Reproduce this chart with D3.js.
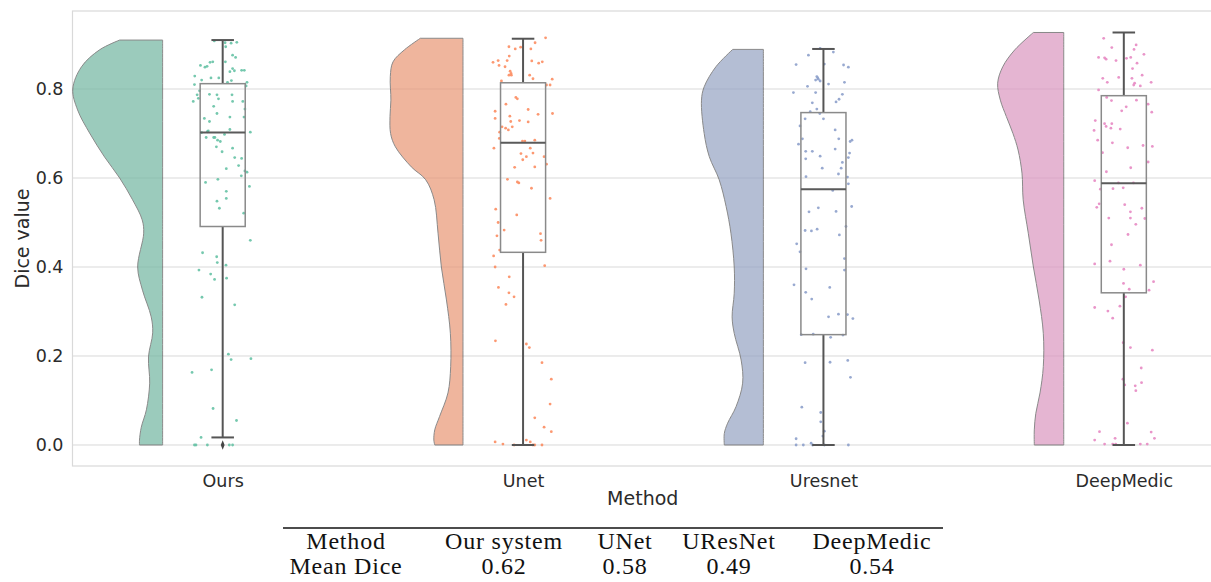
<!DOCTYPE html>
<html>
<head>
<meta charset="utf-8">
<script src="https://cdnjs.cloudflare.com/ajax/libs/d3/7.8.5/d3.min.js"></script>
<style>
  body { margin: 0; background: #fff; }
  svg { display: block; }
</style>
</head>
<body>
<svg id="chart" width="1211" height="582"></svg>
<script>
// ---- data -------------------------------------------------------------
const methods = ["Ours", "Unet", "Uresnet", "DeepMedic"];
const palette = ["#66c2a5", "#fc8d62", "#8da0cb", "#e78ac3"];
const yTicks = [0, 0.2, 0.4, 0.6, 0.8];

// box statistics: [lower whisker, Q1, median, Q3, upper whisker]
const boxStats = [
  [0.017, 0.491, 0.702, 0.812, 0.910],
  [0.000, 0.433, 0.679, 0.814, 0.913],
  [0.000, 0.248, 0.575, 0.747, 0.890],
  [0.000, 0.342, 0.588, 0.785, 0.927]
];
const fliers = [[0.0], [], [], []];

// half-violin kernel density profiles: [Dice value, density]
const densityOurs = [
  [0.910, 1.43], [0.888, 2.10], [0.850, 2.70], [0.800, 2.99], [0.753, 2.83],
  [0.701, 2.43], [0.647, 1.93], [0.600, 1.43], [0.551, 1.00], [0.506, 0.68],
  [0.476, 0.63], [0.400, 0.83], [0.348, 0.67], [0.288, 0.38], [0.252, 0.33],
  [0.198, 0.47], [0.139, 0.43], [0.079, 0.54], [0.040, 0.71], [0.011, 0.77],
  [0.000, 0.77]
];
const densityUnet = [
  [0.914, 1.42], [0.888, 1.95], [0.861, 2.33], [0.828, 2.42], [0.775, 2.40],
  [0.738, 2.43], [0.700, 2.41], [0.670, 2.25], [0.625, 1.72], [0.596, 1.24],
  [0.551, 0.96], [0.476, 0.83], [0.400, 0.72], [0.326, 0.55], [0.251, 0.42],
  [0.176, 0.41], [0.117, 0.50], [0.064, 0.78], [0.034, 0.94], [0.011, 0.97],
  [0.000, 0.94]
];
const densityUresnet = [
  [0.889, 1.02], [0.850, 1.58], [0.805, 1.97], [0.775, 2.06], [0.700, 1.97],
  [0.648, 1.80], [0.596, 1.47], [0.536, 1.24], [0.476, 1.08], [0.400, 0.97],
  [0.341, 0.97], [0.288, 1.04], [0.251, 0.97], [0.191, 0.74], [0.139, 0.69],
  [0.086, 0.91], [0.049, 1.19], [0.026, 1.30], [0.000, 1.30]
];
const densityDeepMedic = [
  [0.927, 1.01], [0.888, 1.63], [0.850, 2.03], [0.813, 2.20], [0.775, 2.11],
  [0.738, 1.91], [0.700, 1.69], [0.663, 1.52], [0.611, 1.39], [0.551, 1.35],
  [0.476, 1.18], [0.400, 1.01], [0.326, 0.82], [0.251, 0.68], [0.176, 0.68],
  [0.117, 0.79], [0.071, 0.93], [0.034, 0.98], [0.000, 0.98]
];

// per-case Dice values with their strip jitter: [Dice value, jitter]
const pointsOurs = [
  [0.908,-0.028],[0.904,0.008],[0.903,0.028],[0.905,0.047],[0.895,0.010],[0.876,0.033],
  [0.871,0.043],[0.853,-0.074],[0.851,-0.052],[0.860,-0.042],[0.861,-0.033],[0.861,0.009],
  [0.849,-0.059],[0.846,0.033],[0.841,0.039],[0.839,0.024],[0.842,0.063],[0.842,0.072],
  [0.829,-0.093],[0.820,-0.070],[0.825,-0.039],[0.825,-0.013],[0.819,0.029],[0.815,0.016],
  [0.815,0.081],[0.810,-0.094],[0.807,0.078],[0.796,-0.077],[0.787,-0.085],[0.772,-0.098],
  [0.779,-0.081],[0.788,-0.044],[0.787,-0.019],[0.778,-0.014],[0.787,0.031],[0.772,0.033],
  [0.772,0.067],[0.761,-0.030],[0.755,0.074],[0.745,-0.019],[0.734,-0.061],[0.727,-0.044],
  [0.737,0.024],[0.737,0.071],[0.709,0.024],[0.706,-0.048],[0.704,-0.051],[0.702,-0.070],
  [0.703,0.092],[0.691,-0.030],[0.691,-0.055],[0.691,-0.026],[0.685,-0.017],[0.682,-0.008],
  [0.698,0.006],[0.670,-0.021],[0.659,-0.002],[0.667,0.033],[0.646,0.040],[0.644,0.063],
  [0.628,0.053],[0.621,0.012],[0.616,0.074],[0.613,0.081],[0.605,0.062],[0.597,-0.016],
  [0.590,-0.057],[0.581,0.089],[0.570,0.012],[0.554,0.012],[0.548,-0.019],[0.532,-0.011],
  [0.521,0.070],[0.460,0.092],[0.423,-0.020],[0.410,-0.018],[0.432,-0.067],[0.404,0.011],
  [0.393,-0.079],[0.384,-0.040],[0.372,-0.027],[0.375,0.013],[0.332,-0.069],[0.315,0.040],
  [0.204,0.019],[0.192,0.028],[0.194,0.094],[0.163,-0.102],[0.169,-0.037],[0.082,-0.032],
  [0.055,0.046],[0.017,-0.072],[0.000,-0.094],[0.000,-0.089],[0.000,-0.051],[0.000,0.022],
  [0.000,0.033]
];
const pointsUnet = [
  [0.915,0.075],[0.904,0.040],[0.895,-0.047],[0.894,-0.008],[0.890,-0.026],[0.890,0.026],
  [0.874,-0.046],[0.864,-0.083],[0.860,-0.100],[0.853,-0.080],[0.864,-0.053],[0.850,-0.060],
  [0.863,0.029],[0.858,0.052],[0.861,0.064],[0.840,-0.043],[0.835,-0.040],[0.831,-0.039],
  [0.831,-0.047],[0.831,0.022],[0.823,0.033],[0.822,0.097],[0.818,-0.072],[0.809,0.078],
  [0.809,0.090],[0.781,-0.024],[0.778,-0.019],[0.766,-0.057],[0.754,0.017],[0.750,-0.093],
  [0.743,0.050],[0.745,0.098],[0.739,-0.044],[0.734,-0.093],[0.727,-0.041],[0.729,-0.012],
  [0.726,0.017],[0.715,-0.070],[0.712,-0.058],[0.715,-0.036],[0.708,-0.049],[0.703,-0.078],
  [0.689,-0.079],[0.667,-0.097],[0.683,-0.002],[0.683,0.006],[0.685,0.039],[0.667,0.024],
  [0.655,-0.007],[0.656,0.033],[0.648,0.011],[0.641,-0.001],[0.648,0.070],[0.631,0.078],
  [0.624,-0.028],[0.625,0.039],[0.597,-0.052],[0.591,-0.019],[0.589,-0.014],[0.577,0.028],
  [0.554,0.090],[0.530,-0.091],[0.517,-0.021],[0.500,-0.083],[0.483,-0.063],[0.470,-0.087],
  [0.475,0.058],[0.460,0.060],[0.438,-0.078],[0.425,-0.098],[0.400,-0.093],[0.403,0.072],
  [0.378,-0.046],[0.354,-0.082],[0.342,-0.047],[0.333,-0.030],[0.316,-0.057],[0.234,-0.092],
  [0.227,0.011],[0.219,0.021],[0.185,0.063],[0.148,0.094],[0.092,0.090],[0.061,0.039],
  [0.040,0.070],[0.030,0.094],[0.007,-0.093],[0.002,-0.067],[0.000,-0.030],[0.011,0.011],
  [0.007,0.024],[0.000,0.033],[0.000,0.039],[0.000,0.063]
];
const pointsUresnet = [
  [0.891,-0.011],[0.883,0.033],[0.876,-0.050],[0.855,-0.091],[0.856,0.003],[0.854,0.067],
  [0.849,0.083],[0.828,-0.022],[0.825,-0.019],[0.820,-0.026],[0.818,-0.011],[0.822,-0.017],
  [0.811,0.017],[0.806,-0.053],[0.815,0.070],[0.792,-0.100],[0.792,-0.026],[0.788,0.063],
  [0.777,0.052],[0.771,0.042],[0.769,-0.037],[0.755,-0.022],[0.749,-0.044],[0.745,-0.012],
  [0.733,0.000],[0.733,-0.061],[0.717,-0.078],[0.708,0.039],[0.688,-0.070],[0.688,0.051],
  [0.676,-0.083],[0.682,0.089],[0.685,0.095],[0.665,0.039],[0.660,-0.059],[0.660,-0.037],
  [0.656,0.087],[0.649,-0.011],[0.643,-0.059],[0.646,0.083],[0.635,0.063],[0.622,-0.004],
  [0.622,0.059],[0.609,0.050],[0.603,-0.058],[0.602,0.080],[0.587,0.083],[0.572,0.031],
  [0.524,-0.048],[0.533,-0.017],[0.525,0.042],[0.536,0.094],[0.482,-0.061],[0.481,-0.040],
  [0.485,-0.021],[0.491,0.075],[0.472,0.053],[0.452,-0.089],[0.434,-0.078],[0.419,0.070],
  [0.396,-0.058],[0.393,0.070],[0.360,-0.098],[0.343,-0.059],[0.354,0.021],[0.328,-0.039],
  [0.288,0.017],[0.294,0.050],[0.293,0.080],[0.284,0.098],[0.248,-0.074],[0.249,-0.034],
  [0.242,0.024],[0.247,0.065],[0.185,-0.061],[0.186,0.022],[0.190,0.081],[0.152,0.090],
  [0.085,-0.072],[0.073,-0.009],[0.052,-0.009],[0.031,0.003],[0.020,-0.002],[0.014,-0.091],
  [0.000,-0.091],[0.000,-0.067],[0.004,-0.041],[0.000,-0.036],[0.000,0.003],[0.000,0.083]
];
const pointsDeepMedic = [
  [0.914,-0.067],[0.893,-0.040],[0.871,-0.084],[0.870,-0.064],[0.867,-0.059],[0.864,-0.026],
  [0.869,0.009],[0.871,0.023],[0.899,0.041],[0.889,0.034],[0.858,0.044],[0.878,0.067],
  [0.846,0.029],[0.824,-0.070],[0.815,-0.055],[0.826,-0.017],[0.824,0.027],[0.813,0.036],
  [0.809,0.033],[0.807,0.055],[0.831,0.061],[0.815,0.091],[0.798,-0.084],[0.775,0.042],
  [0.774,-0.041],[0.766,0.081],[0.781,-0.057],[0.760,0.008],[0.751,-0.007],[0.748,0.093],
  [0.729,-0.095],[0.722,-0.064],[0.716,-0.059],[0.722,-0.040],[0.712,-0.043],[0.707,-0.099],
  [0.710,-0.012],[0.685,-0.087],[0.679,-0.038],[0.673,0.064],[0.671,0.095],[0.668,0.013],
  [0.657,-0.071],[0.636,0.081],[0.623,0.023],[0.614,-0.058],[0.594,-0.097],[0.575,-0.078],
  [0.576,-0.036],[0.589,-0.018],[0.578,-0.002],[0.589,0.032],[0.542,-0.082],[0.534,-0.090],
  [0.540,0.003],[0.524,0.022],[0.532,0.060],[0.510,0.022],[0.509,0.070],[0.496,0.040],
  [0.510,-0.050],[0.473,0.014],[0.450,-0.041],[0.407,-0.097],[0.413,-0.046],[0.404,0.055],
  [0.395,0.000],[0.367,0.099],[0.348,0.084],[0.363,-0.001],[0.350,0.018],[0.333,0.006],
  [0.309,-0.097],[0.301,-0.053],[0.312,-0.013],[0.285,-0.037],[0.230,-0.002],[0.219,0.022],
  [0.213,0.095],[0.173,0.058],[0.148,-0.003],[0.135,0.003],[0.133,0.038],[0.140,0.059],
  [0.122,0.040],[0.049,0.012],[0.030,-0.081],[0.029,0.091],[0.011,-0.097],[0.015,-0.029],
  [0.015,0.102],[0.002,-0.064],[0.002,-0.037],[0.002,-0.027],[0.002,0.055],[0.002,0.078]
];

const densities = [densityOurs, densityUnet, densityUresnet, densityDeepMedic];
const points = [pointsOurs, pointsUnet, pointsUresnet, pointsDeepMedic];

// summary table under the plot
const tableHeader = ["Method", "Our system", "UNet", "UResNet", "DeepMedic"];
const tableRow = ["Mean Dice", "0.62", "0.58", "0.49", "0.54"];

// ---- layout -----------------------------------------------------------
const svg = d3.select("#chart");
const frame = { left: 72.5, right: 1274, top: 11, bottom: 466 };

const x = d3.scaleLinear().domain([-0.5, 3.5]).range([frame.left, frame.right]);
const y = d3.scaleLinear().domain([-0.0472, 0.9753]).range([frame.bottom, frame.top]);
// density -> half-violin width in category units
const w = d3.scaleLinear().domain([0, 1]).range([0, 0.1]);

const violinOffset = 0.2;   // flat edge of the half violin, left of the box
const boxWidth = 0.15;
const capWidth = boxWidth / 2;

const tickFont = "DejaVu Sans, sans-serif";
const textColor = "#2b2b2b";
const gridColor = "#d9d9d9";

// background grid (horizontal only)
svg.append("g")
  .selectAll("line")
  .data(yTicks)
  .join("line")
  .attr("x1", frame.left).attr("x2", frame.right)
  .attr("y1", d => y(d)).attr("y2", d => y(d))
  .attr("stroke", gridColor).attr("stroke-width", 1);

// axes frame
svg.append("rect")
  .attr("x", frame.left).attr("y", frame.top)
  .attr("width", frame.right - frame.left).attr("height", frame.bottom - frame.top)
  .attr("fill", "none").attr("stroke", gridColor).attr("stroke-width", 1.2);

// desaturated palette, as used for the violin bodies
const violinColor = c => { const h = d3.hsl(c); h.s *= 0.75; return h.formatHex(); };

// half violins
const area = d3.area()
  .curve(d3.curveCatmullRom.alpha(0.5))
  .y(d => y(d[0]));

const violins = svg.append("g");
densities.forEach((prof, i) => {
  const edge = i - violinOffset;
  violins.append("path")
    .datum(prof)
    .attr("d", area.x0(() => x(edge)).x1(d => x(edge - w(d[1]))))
    .attr("fill", violinColor(palette[i]))
    .attr("stroke", "#595959")
    .attr("stroke-width", 1)
    .attr("opacity", 0.7);
});

// jittered strip of individual cases
const strips = svg.append("g");
points.forEach((pts, i) => {
  strips.append("g")
    .selectAll("circle")
    .data(pts)
    .join("circle")
    .attr("cx", d => x(i + d[1]))
    .attr("cy", d => y(d[0]))
    .attr("r", 1.4)
    .attr("fill", palette[i])
    .attr("opacity", 0.9);
});

// box plots
const boxes = svg.append("g");
boxStats.forEach((s, i) => {
  const [lo, q1, med, q3, hi] = s;
  const g = boxes.append("g");
  const line = (x1, y1, x2, y2, color, width) =>
    g.append("line")
      .attr("x1", x(x1)).attr("x2", x(x2)).attr("y1", y(y1)).attr("y2", y(y2))
      .attr("stroke", color).attr("stroke-width", width);
  // whiskers
  line(i, q3, i, hi, "#555", 2);
  line(i, q1, i, lo, "#555", 2);
  // caps
  line(i - capWidth / 2, hi, i + capWidth / 2, hi, "#555", 2);
  line(i - capWidth / 2, lo, i + capWidth / 2, lo, "#555", 2);
  // box
  g.append("rect")
    .attr("x", x(i - boxWidth / 2)).attr("width", x(i + boxWidth / 2) - x(i - boxWidth / 2))
    .attr("y", y(q3)).attr("height", y(q1) - y(q3))
    .attr("fill", "none").attr("stroke", "#8a8a8a").attr("stroke-width", 1.5);
  // median
  line(i - boxWidth / 2, med, i + boxWidth / 2, med, "#5a5a5a", 2);
  // outliers
  g.selectAll("path.flier")
    .data(fliers[i])
    .join("path")
    .attr("class", "flier")
    .attr("d", d3.symbol(d3.symbolDiamond, 26))
    .attr("transform", d => `translate(${x(i)},${y(d)}) scale(0.7,1)`)
    .attr("fill", "#444");
});

// axes
const yAxis = svg.append("g")
  .attr("transform", `translate(${frame.left},0)`)
  .call(d3.axisLeft(y).tickValues(yTicks).tickFormat(d3.format(".1f")).tickSize(0).tickPadding(9));
const xAxis = svg.append("g")
  .attr("transform", `translate(0,${frame.bottom})`)
  .call(d3.axisBottom(x).tickValues(d3.range(methods.length)).tickFormat(i => methods[i]).tickSize(0).tickPadding(9));
[yAxis, xAxis].forEach(a => {
  a.select(".domain").remove();
  a.selectAll("text")
    .attr("font-family", tickFont)
    .attr("font-size", 17.5)
    .attr("fill", textColor);
});

// axis titles
svg.append("text")
  .attr("x", (frame.left + 1213) / 2).attr("y", 505)
  .attr("text-anchor", "middle")
  .attr("font-family", tickFont).attr("font-size", 19)
  .attr("fill", textColor)
  .text("Method");
svg.append("text")
  .attr("transform", `translate(29,${(frame.top + frame.bottom) / 2}) rotate(-90)`)
  .attr("text-anchor", "middle")
  .attr("font-family", tickFont).attr("font-size", 19)
  .attr("fill", textColor)
  .text("Dice value");

// summary table (booktabs style)
const table = svg.append("g");
const colCenters = [346, 504, 625, 729, 872];
table.append("line")
  .attr("x1", 283).attr("x2", 943).attr("y1", 528).attr("y2", 528)
  .attr("stroke", "#111").attr("stroke-width", 1.6);
[[tableHeader, 549], [tableRow, 574]].forEach(([cells, base]) => {
  table.append("g")
    .selectAll("text")
    .data(cells)
    .join("text")
    .attr("x", (d, j) => colCenters[j])
    .attr("y", base)
    .attr("text-anchor", "middle")
    .attr("font-family", "Liberation Serif, serif")
    .attr("font-size", 24)
    .attr("letter-spacing", 0.8)
    .attr("fill", "#111")
    .text(d => d);
});
</script>
</body>
</html>
